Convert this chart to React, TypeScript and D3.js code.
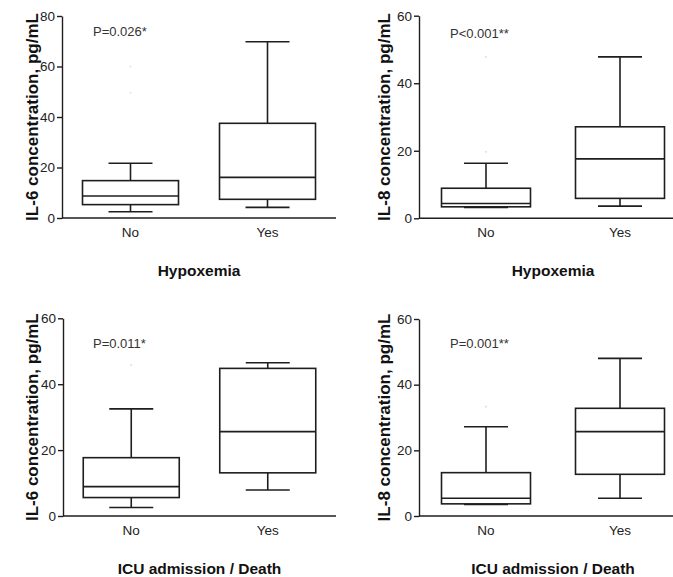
import { useEffect, useRef } from "react";
import * as d3 from "d3";

const GROUPS = ["No", "Yes"];

// [min, q1, median, q3, max] per group
const IL6_HYPOXEMIA = [
  [2.5, 5.3, 8.7, 14.8, 21.7],
  [4.2, 7.4, 16.1, 37.5, 69.8],
];
const IL8_HYPOXEMIA = [
  [3.2, 3.4, 4.4, 8.9, 16.3],
  [3.6, 5.9, 17.6, 27.1, 47.8],
];
const IL6_ICU = [
  [2.6, 5.6, 8.9, 17.7, 32.5],
  [7.9, 13.1, 25.6, 44.8, 46.5],
];
const IL8_ICU = [
  [3.5, 3.7, 5.4, 13.2, 27.2],
  [5.4, 12.7, 25.7, 32.8, 48.0],
];

// faint outliers: [groupIndex, value]
const IL6_HYPOXEMIA_OUT = [[0, 60], [0, 49.6]];
const IL8_HYPOXEMIA_OUT = [[0, 47.8], [0, 19.7]];
const IL6_ICU_OUT = [[0, 45.8]];
const IL8_ICU_OUT = [[0, 33.3]];

const Y_TICKS_80 = [0, 20, 40, 60, 80];
const Y_TICKS_60 = [0, 20, 40, 60];

const P_VALUES = ["P=0.026*", "P<0.001**", "P=0.011*", "P=0.001**"];
const Y_TITLES = ["IL-6 concentration, pg/mL", "IL-8 concentration, pg/mL", "IL-6 concentration, pg/mL", "IL-8 concentration, pg/mL"];
const X_TITLES = ["Hypoxemia", "Hypoxemia", "ICU admission / Death", "ICU admission / Death"];

export default function App() {
  const svgRef = useRef<SVGSVGElement | null>(null);

  useEffect(() => {
    if (!svgRef.current) return;
    const W = 673;
    const H = 577;
    const svg = d3.select(svgRef.current);
    svg.selectAll("*").remove();
    svg.attr("width", W).attr("height", H);

    const ink = "#1e1e1e";
    const font = "'Liberation Sans', Arial, sans-serif";

    const panels = [
      { stats: IL6_HYPOXEMIA, out: IL6_HYPOXEMIA_OUT, ticks: Y_TICKS_80, max: 80, x0: 62, x1: 336, yTop: 16, yBot: 218, boxW: 96, titleX: 38, pX: 93, pY: 36 },
      { stats: IL8_HYPOXEMIA, out: IL8_HYPOXEMIA_OUT, ticks: Y_TICKS_60, max: 60, x0: 419, x1: 687, yTop: 15.7, yBot: 218.3, boxW: 89, titleX: 390, pX: 450, pY: 38 },
      { stats: IL6_ICU, out: IL6_ICU_OUT, ticks: Y_TICKS_60, max: 60, x0: 63, x1: 336, yTop: 318.3, yBot: 516, boxW: 96, titleX: 38, pX: 93, pY: 348 },
      { stats: IL8_ICU, out: IL8_ICU_OUT, ticks: Y_TICKS_60, max: 60, x0: 419, x1: 687, yTop: 319, yBot: 516, boxW: 89, titleX: 390, pX: 450, pY: 348 },
    ];

    panels.forEach((p, pi) => {
      const g = svg.append("g");
      const x = d3.scalePoint<string>().domain(GROUPS).range([p.x0, p.x1]).padding(0.5);
      const y = d3.scaleLinear().domain([0, p.max]).range([p.yBot, p.yTop]);

      // y axis
      g.append("g")
        .attr("transform", `translate(${p.x0},0)`)
        .call(d3.axisLeft(y).tickValues(p.ticks).tickSize(5).tickSizeOuter(0).tickPadding(2))
        .call(ax => ax.select(".domain").attr("stroke", ink).attr("stroke-width", 1.4))
        .call(ax => ax.selectAll("line").attr("stroke", ink).attr("stroke-width", 1.4))
        .call(ax => ax.selectAll("text").attr("font-size", 13.5).attr("font-family", font).attr("fill", "#222"));

      // x axis line
      g.append("line")
        .attr("x1", p.x0).attr("x2", p.x1)
        .attr("y1", y(0)).attr("y2", y(0))
        .attr("stroke", ink).attr("stroke-width", 1.4);

      // faint outliers
      p.out.forEach(([gi, v]) => {
        g.append("circle")
          .attr("cx", x(GROUPS[gi]) as number).attr("cy", y(v))
          .attr("r", 1.1).attr("fill", "#e4e4e4");
      });

      // boxes
      p.stats.forEach((s, gi) => {
        const cx = x(GROUPS[gi]) as number;
        const [mn, q1, med, q3, mx] = s;
        const bw = p.boxW;
        const cw = 44;
        const bg = g.append("g").attr("stroke", ink).attr("stroke-width", 1.6).attr("fill", "none");
        bg.append("line").attr("x1", cx).attr("x2", cx).attr("y1", y(q3)).attr("y2", y(mx));
        bg.append("line").attr("x1", cx).attr("x2", cx).attr("y1", y(q1)).attr("y2", y(mn));
        bg.append("line").attr("x1", cx - cw / 2).attr("x2", cx + cw / 2).attr("y1", y(mx)).attr("y2", y(mx));
        bg.append("line").attr("x1", cx - cw / 2).attr("x2", cx + cw / 2).attr("y1", y(mn)).attr("y2", y(mn));
        bg.append("rect")
          .attr("x", cx - bw / 2).attr("width", bw)
          .attr("y", y(q3)).attr("height", y(q1) - y(q3))
          .attr("fill", "white");
        bg.append("line").attr("x1", cx - bw / 2).attr("x2", cx + bw / 2).attr("y1", y(med)).attr("y2", y(med));

        g.append("text")
          .attr("x", cx).attr("y", y(0) + 19)
          .attr("text-anchor", "middle").attr("font-size", 13.5)
          .attr("font-family", font).attr("fill", "#222")
          .text(GROUPS[gi]);
      });

      // x title
      g.append("text")
        .attr("x", (p.x0 + p.x1) / 2).attr("y", y(0) + 58)
        .attr("text-anchor", "middle").attr("font-size", 15.5).attr("font-weight", 700)
        .attr("font-family", font).attr("fill", "#111")
        .text(X_TITLES[pi]);

      // y title
      g.append("text")
        .attr("transform", `translate(${p.titleX},${(p.yTop + p.yBot) / 2}) rotate(-90)`)
        .attr("text-anchor", "middle").attr("font-size", 17).attr("font-weight", 700)
        .attr("font-family", font).attr("fill", "#111")
        .text(Y_TITLES[pi]);

      // p value
      g.append("text")
        .attr("x", p.pX).attr("y", p.pY)
        .attr("font-size", 13).attr("font-family", font).attr("fill", "#333")
        .text(P_VALUES[pi]);
    });
  }, []);

  return (
    <div style={{ position: "absolute", left: 0, top: 0, width: 673, height: 577, background: "white", overflow: "hidden" }}>
      <svg ref={svgRef} style={{ display: "block" }} />
    </div>
  );
}
